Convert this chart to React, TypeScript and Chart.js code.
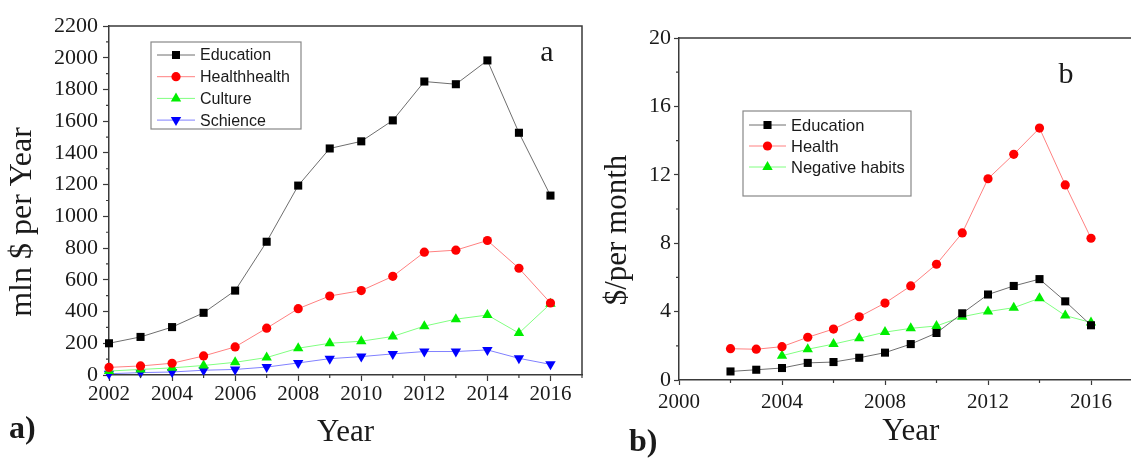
import React, { useEffect, useRef } from "react";
import { Chart, registerables } from "chart.js";

Chart.register(...registerables);

// ---------- Panel a data (mln $ per year) ----------
const yearsA = [2002, 2003, 2004, 2005, 2006, 2007, 2008, 2009, 2010, 2011, 2012, 2013, 2014, 2015, 2016];
const educationA = [200, 240, 302, 392, 532, 840, 1194, 1428, 1473, 1605, 1850, 1833, 1983, 1527, 1131];
const healthA = [48, 57, 74, 120, 177, 295, 418, 498, 532, 622, 774, 787, 848, 673, 454];
const cultureA = [25, 35, 45, 60, 80, 110, 169, 200, 213, 243, 308, 352, 378, 264, 449];
const scienceA = [8, 15, 19, 30, 35, 50, 76, 103, 116, 133, 148, 148, 158, 105, 67];
const labelsA = ["Education", "Healthhealth", "Culture", "Schience"];

// ---------- Panel b data ($ per month) ----------
const yearsB = [2002, 2003, 2004, 2005, 2006, 2007, 2008, 2009, 2010, 2011, 2012, 2013, 2014, 2015, 2016];
const educationB = [0.5, 0.6, 0.7, 1.0, 1.05, 1.3, 1.6, 2.1, 2.75, 3.9, 5.0, 5.5, 5.9, 4.6, 3.2];
const healthB = [1.83, 1.8, 1.95, 2.5, 2.98, 3.7, 4.5, 5.5, 6.77, 8.6, 11.77, 13.2, 14.73, 11.41, 8.29];
const negativeB = [null, null, 1.42, 1.8, 2.1, 2.44, 2.8, 3.02, 3.16, 3.7, 4.0, 4.23, 4.78, 3.77, 3.36];
const labelsB = ["Education", "Health", "Negative habits"];

const SERIF = "'Liberation Serif', 'Times New Roman', serif";
const SANS = "'Liberation Sans', Arial, sans-serif";
const AXIS = "#3a3a3a";
const TEXT = "#1a1a1a";

function drawMarker(ctx: CanvasRenderingContext2D, style: string, x: number, y: number, r: number, rotDeg: number, color: string) {
  ctx.save();
  ctx.fillStyle = color;
  ctx.beginPath();
  if (style === "rect") {
    const s = Math.SQRT1_2 * r;
    ctx.rect(x - s, y - s, 2 * s, 2 * s);
  } else if (style === "triangle") {
    let rad = (rotDeg * Math.PI) / 180;
    ctx.moveTo(x + Math.sin(rad) * r, y - Math.cos(rad) * r);
    rad += (2 * Math.PI) / 3;
    ctx.lineTo(x + Math.sin(rad) * r, y - Math.cos(rad) * r);
    rad += (2 * Math.PI) / 3;
    ctx.lineTo(x + Math.sin(rad) * r, y - Math.cos(rad) * r);
    ctx.closePath();
  } else {
    ctx.arc(x, y, r, 0, Math.PI * 2);
  }
  ctx.fill();
  ctx.restore();
}

const framePlugin = {
  id: "frameMinor",
  afterDraw(chart: any, _args: any, opts: any) {
    const { ctx, chartArea: ca } = chart;
    ctx.save();
    ctx.strokeStyle = AXIS;
    ctx.lineWidth = 1.5;
    ctx.beginPath();
    ctx.moveTo(ca.left, ca.top);
    ctx.lineTo(ca.right, ca.top);
    ctx.lineTo(ca.right, ca.bottom);
    ctx.stroke();
    ctx.lineWidth = 1.2;
    const len = opts.minorLength ?? 3;
    ["x", "y"].forEach((id) => {
      const sc = chart.scales[id];
      const t = sc.ticks.map((k: any) => k.value);
      if (t.length < 2) return;
      const step = t[1] - t[0];
      const vals: number[] = [];
      for (let v = t[0] - step / 2; v <= sc.max + 1e-9; v += step) {
        if (v >= sc.min - 1e-9) vals.push(v);
      }
      ctx.beginPath();
      vals.forEach((v) => {
        const p = sc.getPixelForValue(v);
        if (id === "x") {
          ctx.moveTo(p, ca.bottom);
          ctx.lineTo(p, ca.bottom + len);
        } else {
          ctx.moveTo(ca.left, p);
          ctx.lineTo(ca.left - len, p);
        }
      });
      ctx.stroke();
    });
    ctx.restore();
  },
};

const boxLegendPlugin = {
  id: "boxLegend",
  afterDraw(chart: any, _args: any, o: any) {
    if (!o || !o.display) return;
    const { ctx } = chart;
    ctx.save();
    ctx.fillStyle = "#fff";
    ctx.fillRect(o.left, o.top, o.width, o.height);
    ctx.strokeStyle = "#888";
    ctx.lineWidth = 1.2;
    ctx.strokeRect(o.left, o.top, o.width, o.height);
    chart.data.datasets.forEach((ds: any, i: number) => {
      const y = o.firstRow + i * o.rowGap;
      ctx.strokeStyle = ds.borderColor;
      ctx.lineWidth = 1;
      ctx.beginPath();
      ctx.moveTo(o.sampleLeft, y);
      ctx.lineTo(o.sampleLeft + o.sampleWidth, y);
      ctx.stroke();
      drawMarker(ctx, ds.pointStyle, o.sampleLeft + o.sampleWidth / 2, y, ds.pointRadius, ds.pointRotation || 0, ds.pointBackgroundColor);
      ctx.fillStyle = TEXT;
      ctx.font = o.font;
      ctx.textAlign = "left";
      ctx.textBaseline = "middle";
      ctx.fillText(ds.label, o.textLeft, y + 1);
    });
    ctx.restore();
  },
};

const panelTextPlugin = {
  id: "panelTexts",
  afterDraw(chart: any, _args: any, o: any) {
    if (!o || !o.items) return;
    const { ctx } = chart;
    o.items.forEach((it: any) => {
      ctx.save();
      ctx.translate(it.x, it.y);
      if (it.rotate) ctx.rotate((it.rotate * Math.PI) / 180);
      ctx.fillStyle = TEXT;
      ctx.font = it.font;
      ctx.textAlign = it.align || "center";
      ctx.textBaseline = "middle";
      ctx.fillText(it.text, 0, 0);
      ctx.restore();
    });
  },
};

function series(label: string, xs: number[], ys: (number | null)[], line: string, mark: string, style: string, r: number, rot = 0) {
  return {
    label,
    data: xs.map((x, i) => ({ x, y: ys[i] })),
    borderColor: line,
    borderWidth: 1,
    pointStyle: style,
    pointRadius: r,
    pointHoverRadius: r,
    pointRotation: rot,
    pointBackgroundColor: mark,
    pointBorderColor: mark,
    pointBorderWidth: 0,
    tension: 0,
    clip: false as const,
    spanGaps: false,
  };
}

function axisCommon(tickLen: number) {
  return {
    grid: { drawOnChartArea: false, drawTicks: true, tickLength: tickLen, tickColor: AXIS, tickWidth: 1.2 },
    border: { color: AXIS, width: 1.5 },
  };
}

function ChartA() {
  const ref = useRef<HTMLCanvasElement>(null);
  useEffect(() => {
    const chart = new Chart(ref.current as HTMLCanvasElement, {
      type: "line",
      data: {
        datasets: [
          series(labelsA[0], yearsA, educationA, "#6e6e6e", "#000000", "rect", 5.7),
          series(labelsA[1], yearsA, healthA, "#ff8080", "#ff0000", "circle", 4.6),
          series(labelsA[2], yearsA, cultureA, "#80ff80", "#00ee00", "triangle", 6),
          series(labelsA[3], yearsA, scienceA, "#8080ff", "#0000ff", "triangle", 6, 180),
        ] as any,
      },
      options: {
        animation: false,
        responsive: true,
        maintainAspectRatio: false,
        layout: { padding: { top: 26, right: 8, left: 0, bottom: 0 } },
        plugins: {
          legend: { display: false },
          tooltip: { enabled: false },
          boxLegend: {
            display: true,
            left: 151, top: 42, width: 150, height: 87,
            firstRow: 55, rowGap: 21.7,
            sampleLeft: 157, sampleWidth: 38, textLeft: 200,
            font: `16px ${SANS}`,
          },
          panelTexts: {
            items: [
              { text: "a", x: 547, y: 53, font: `30px ${SERIF}` },
              { text: "a)", x: 9, y: 430, font: `bold 32px ${SERIF}`, align: "left" },
              { text: "mln $ per Year", x: 23, y: 222, rotate: -90, font: `32px ${SERIF}` },
            ],
          },
          frameMinor: { minorLength: 3 },
        } as any,
        scales: {
          x: {
            type: "linear",
            min: 2002,
            max: 2017,
            ...axisCommon(6),
            ticks: {
              stepSize: 2,
              autoSkip: false,
              includeBounds: false,
              maxRotation: 0,
              padding: 1,
              color: TEXT,
              font: { family: SERIF, size: 21 },
              callback: (v: any) => String(v),
            },
            title: {
              display: true,
              text: "Year",
              color: TEXT,
              font: { family: SERIF, size: 31 },
              padding: { top: 0, bottom: 10 },
            },
            afterFit: (s: any) => { s.height = 86; },
          },
          y: {
            type: "linear",
            min: 0,
            max: 2200,
            ...axisCommon(6),
            ticks: {
              stepSize: 200,
              autoSkip: false,
              padding: 5,
              color: TEXT,
              font: { family: SERIF, size: 22 },
              callback: (v: any) => String(v),
            },
            title: { display: false },
            afterFit: (s: any) => { s.width = 109; },
          },
        } as any,
      },
      plugins: [framePlugin, boxLegendPlugin, panelTextPlugin],
    });
    return () => chart.destroy();
  }, []);
  return (
    <div style={{ position: "absolute", left: 0, top: 0, width: 590, height: 461 }}>
      <canvas ref={ref} />
    </div>
  );
}

function ChartB() {
  const ref = useRef<HTMLCanvasElement>(null);
  useEffect(() => {
    const chart = new Chart(ref.current as HTMLCanvasElement, {
      type: "line",
      data: {
        datasets: [
          series(labelsB[0], yearsB, educationB, "#6e6e6e", "#000000", "rect", 5.7),
          series(labelsB[1], yearsB, healthB, "#ff8080", "#ff0000", "circle", 4.6),
          series(labelsB[2], yearsB, negativeB, "#80ff80", "#00ee00", "triangle", 6),
        ] as any,
      },
      options: {
        animation: false,
        responsive: true,
        maintainAspectRatio: false,
        layout: { padding: { top: 38, right: 27.5, left: 0, bottom: 0 } },
        plugins: {
          legend: { display: false },
          tooltip: { enabled: false },
          boxLegend: {
            display: true,
            left: 153, top: 111, width: 168, height: 85,
            firstRow: 125, rowGap: 21,
            sampleLeft: 159, sampleWidth: 37, textLeft: 201,
            font: `16.5px ${SANS}`,
          },
          panelTexts: {
            items: [
              { text: "b", x: 476, y: 75, font: `30px ${SERIF}` },
              { text: "b)", x: 39, y: 443, font: `bold 32px ${SERIF}`, align: "left" },
              { text: "$/per month", x: 28, y: 230, rotate: -90, font: `31px ${SERIF}` },
            ],
          },
          frameMinor: { minorLength: 3 },
        } as any,
        scales: {
          x: {
            type: "linear",
            min: 2000,
            max: 2018,
            ...axisCommon(5),
            ticks: {
              stepSize: 4,
              autoSkip: false,
              includeBounds: false,
              maxRotation: 0,
              padding: 5,
              color: TEXT,
              font: { family: SERIF, size: 21 },
              callback: (v: any) => String(v),
            },
            title: {
              display: true,
              text: "Year",
              color: TEXT,
              font: { family: SERIF, size: 31 },
              padding: { top: 0, bottom: 11 },
            },
            afterFit: (s: any) => { s.height = 81; },
          },
          y: {
            type: "linear",
            min: 0,
            max: 20,
            ...axisCommon(5),
            ticks: {
              stepSize: 4,
              autoSkip: false,
              padding: 3,
              color: TEXT,
              font: { family: SERIF, size: 22 },
              callback: (v: any) => String(v),
            },
            title: { display: false },
            afterFit: (s: any) => { s.width = 89; },
          },
        } as any,
      },
      plugins: [framePlugin, boxLegendPlugin, panelTextPlugin],
    });
    return () => chart.destroy();
  }, []);
  return (
    <div style={{ position: "absolute", left: 590, top: 0, width: 580, height: 461 }}>
      <canvas ref={ref} />
    </div>
  );
}

export default function App() {
  return (
    <div
      style={{
        position: "fixed",
        left: 0,
        top: 0,
        width: 1131,
        height: 461,
        overflow: "hidden",
        background: "#ffffff",
      }}
    >
      <ChartA />
      <ChartB />
    </div>
  );
}
